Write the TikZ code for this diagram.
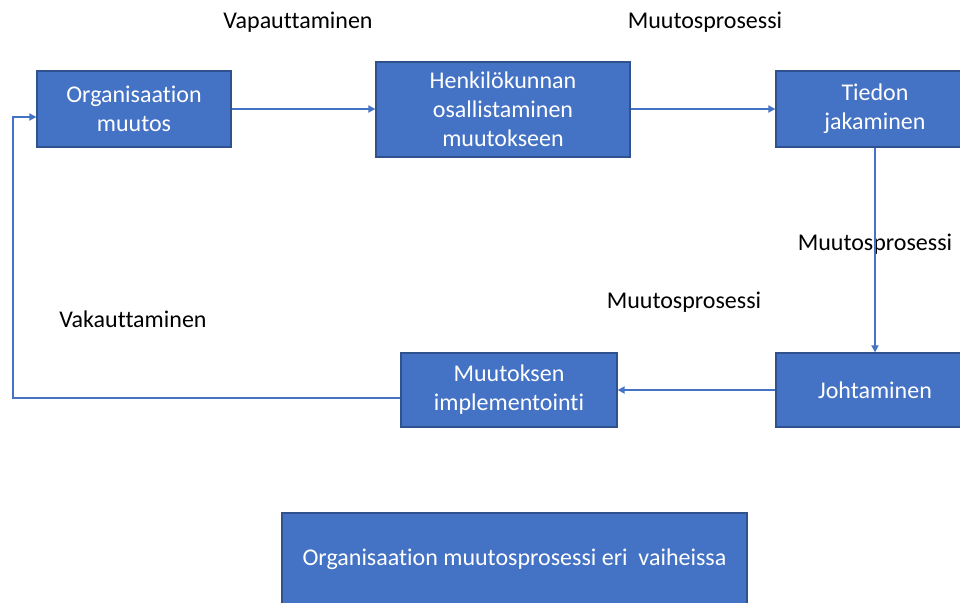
\documentclass[tikz,border=0pt]{standalone}
\usepackage{fontspec}
\setmainfont{Carlito}[Ligatures={NoCommon}]
\usetikzlibrary{arrows.meta}
\definecolor{boxfill}{HTML}{4472C4}
\definecolor{boxedge}{HTML}{2F528F}
\definecolor{linkblue}{HTML}{4472C4}
\begin{document}
\begin{tikzpicture}[x=1pt,y=-1pt,
  stagebox/.style={draw=boxedge,line width=1.3pt,fill=boxfill,text=white,
    align=center,inner sep=0pt,font=\fontsize{24}{29}\selectfont},
  phase/.style={text=black,inner sep=0pt,font=\fontsize{24}{29}\selectfont},
  link/.style={draw=linkblue,line width=2.4pt,-{Triangle[length=7pt,width=7pt]}}]
\useasboundingbox (0,0) rectangle (960,602);
% process stages
\node[stagebox,minimum width=194pt,minimum height=76pt] (org) at (134,109) {Organisaation\\muutos};
\node[stagebox,minimum width=254pt,minimum height=95pt] (staff) at (503,109.5) {Henkilökunnan\\osallistaminen\\muutokseen};
\node[stagebox,minimum width=198pt,minimum height=76pt] (info) at (875,109) {Tiedon\\jakaminen};
\node[stagebox,minimum width=198pt,minimum height=74pt] (lead) at (875,390) {Johtaminen};
\node[stagebox,minimum width=216pt,minimum height=74pt] (impl) at (509,390) {Muutoksen\\implementointi};
\node[stagebox,minimum width=465pt,minimum height=92pt] (title) at (514.5,559) {Organisaation muutosprosessi eri\ \ vaiheissa};
% phase labels
\node[phase] (lab1) at (298,22) {Vapauttaminen};
\node[phase] (lab2) at (705,22) {Muutosprosessi};
\node[phase] (lab3) at (875,244) {Muutosprosessi};
\node[phase] (lab4) at (684,302) {Muutosprosessi};
\node[phase] (lab5) at (133,319) {Vakauttaminen};
% connectors
\draw[link] (org.east) -- (staff.west |- org.east);
\draw[link] (staff.east |- info.west) -- (info.west);
\draw[link] (info.south) -- (lead.north);
\draw[link] (lead.west) -- (impl.east);
\coordinate (fbLow) at (13,398);
\coordinate (fbHigh) at (13,117);
\draw[link] (impl.west |- fbLow) -- (fbLow) -- (fbHigh) -- (org.west |- fbHigh);
\end{tikzpicture}
\end{document}
